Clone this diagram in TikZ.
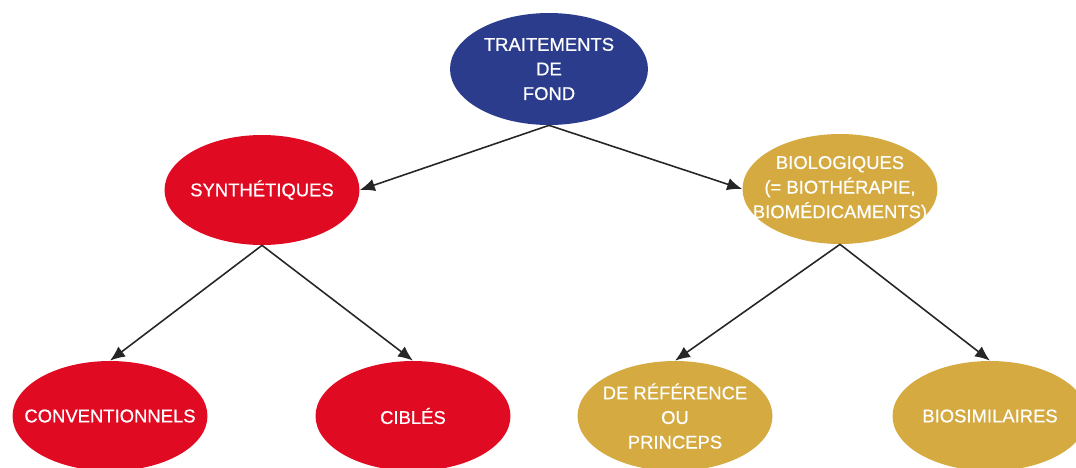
\documentclass[tikz,border=0pt]{standalone}
\usepackage{fontspec}
\setmainfont{Liberation Sans}
\newfontfamily\bullefont{Liberation Sans}[FakeBold=0.6]
\usetikzlibrary{shapes.geometric,arrows.meta}
\definecolor{fondbleu}{RGB}{43,60,140}
\definecolor{synthrouge}{RGB}{224,10,35}
\definecolor{biodore}{RGB}{212,170,65}

\begin{document}
\begin{tikzpicture}[x=0.02cm,y=-0.02cm,
		bulle/.style={ellipse,minimum width=3.9cm,minimum height=2.2cm,inner sep=0pt},
		texte/.style={text=white,align=center,font=\bullefont\fontsize{10.5}{14}\selectfont},
		fleche/.style={-{Latex[length=3mm,width=2.5mm]},draw=black!85,line width=0.9pt}]
		\useasboundingbox (0,0) rectangle (1076,467);

		%Niveau 1
		\node[bulle,fill=fondbleu,minimum width=3.96cm,minimum height=2.24cm,
			label={[texte]center:TRAITEMENTS\\DE\\FOND}] (fond) at (549,69) {};

		%Niveau 2
		\node[bulle,fill=synthrouge,label={[texte]center:SYNTHÉTIQUES}] (synth) at (262,190) {};
		\node[bulle,fill=biodore,
			label={[texte]center:BIOLOGIQUES\\(= BIOTHÉRAPIE,\\BIOMÉDICAMENTS)}] (bio) at (840,189) {};

		%Niveau 3
		\node[bulle,fill=synthrouge,label={[texte]center:CONVENTIONNELS}] (conv) at (110,416) {};
		\node[bulle,fill=synthrouge,label={[texte]center:CIBLÉS}] (cibles) at (413,416) {};
		\node[bulle,fill=biodore,label={[texte]center:DE RÉFÉRENCE\\OU\\PRINCEPS}] (ref) at (675,416) {};
		\node[bulle,fill=biodore,label={[texte]center:BIOSIMILAIRES}] (biosim) at (990,416) {};

		%Fleches
		\draw[fleche] (fond.south) -- (synth.east);
		\draw[fleche] (fond.south) -- (bio.west);
		\foreach \a/\b in {synth/conv, synth/cibles, bio/ref, bio/biosim}{
			\draw[fleche] (\a.south) -- (\b.north);
		}
	\end{tikzpicture}
\end{document}
